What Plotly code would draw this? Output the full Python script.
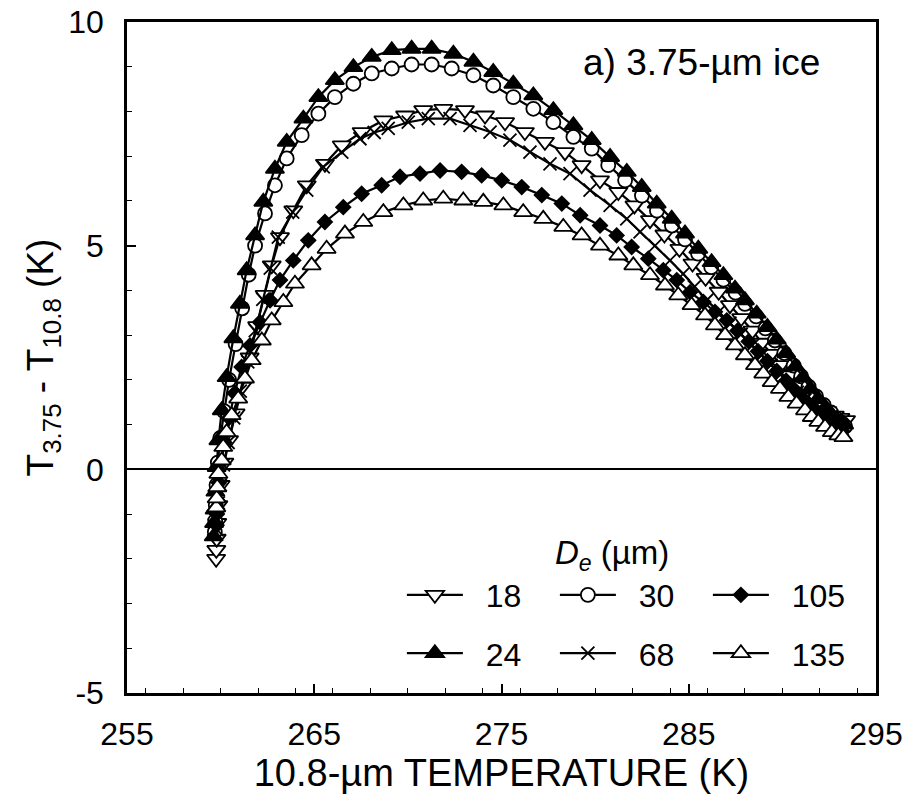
import plotly.graph_objects as go

# ---- data ----
t18 = [259.76, 259.77, 259.79, 259.82, 259.88, 260.0, 260.2, 260.45, 260.8, 261.15, 261.55, 261.95, 262.35, 262.73, 263.17, 263.88, 264.6, 265.57, 266.47, 267.53, 268.69, 269.85, 270.82, 271.89, 273.05, 274.12, 275.19, 276.25, 277.32, 278.39, 279.28, 280.26, 281.24, 282.1, 282.93, 283.7, 284.5, 285.2, 285.9, 286.6, 287.2, 287.8, 288.4, 288.9, 289.4, 289.9, 290.4, 290.8, 291.2, 291.6, 292.0, 292.4, 292.8, 293.1, 293.4]
d18 = [-2.0, -1.8, -1.55, -1.2, -0.8, -0.35, 0.15, 0.65, 1.25, 1.85, 2.5, 3.2, 3.9, 4.56, 5.19, 5.79, 6.35, 6.83, 7.24, 7.54, 7.80, 7.91, 8.03, 8.06, 8.03, 7.91, 7.76, 7.54, 7.32, 7.09, 6.80, 6.46, 6.2, 5.9, 5.57, 5.25, 4.93, 4.6, 4.28, 3.97, 3.67, 3.38, 3.1, 2.83, 2.58, 2.33, 2.1, 1.9, 1.72, 1.55, 1.42, 1.3, 1.2, 1.15, 1.1]

t24 = [259.63, 259.65, 259.68, 259.72, 259.79, 259.88, 260.06, 260.32, 260.68, 261.03, 261.39, 261.84, 262.28, 262.9, 263.53, 264.42, 265.22, 266.1, 267.09, 268.07, 269.14, 270.2, 271.27, 272.43, 273.5, 274.56, 275.63, 276.7, 277.77, 278.84, 279.82, 280.8, 281.69, 282.49, 283.29, 284.09, 284.8, 285.51, 286.22, 286.85, 287.47, 288.0, 288.63, 289.2, 289.7, 290.2, 290.7, 291.1, 291.5, 291.9, 292.3, 292.6, 292.9, 293.1, 293.3]
d24 = [-1.5, -1.2, -0.9, -0.5, 0.05, 0.65, 1.32, 2.06, 2.93, 3.7, 4.45, 5.23, 5.98, 6.72, 7.32, 7.84, 8.32, 8.70, 8.99, 9.22, 9.37, 9.40, 9.40, 9.29, 9.11, 8.88, 8.62, 8.36, 8.03, 7.69, 7.36, 6.98, 6.65, 6.31, 5.94, 5.60, 5.27, 4.93, 4.63, 4.34, 4.04, 3.78, 3.48, 3.18, 2.9, 2.6, 2.3, 2.05, 1.8, 1.57, 1.38, 1.24, 1.12, 1.04, 1.0]

t30 = [259.69, 259.71, 259.74, 259.78, 259.85, 259.98, 260.18, 260.45, 260.8, 261.15, 261.5, 261.84, 262.37, 262.9, 263.53, 264.33, 265.22, 266.1, 267.09, 268.07, 269.14, 270.2, 271.27, 272.34, 273.5, 274.56, 275.63, 276.7, 277.77, 278.84, 279.82, 280.7, 281.6, 282.5, 283.3, 284.1, 284.8, 285.5, 286.2, 286.85, 287.5, 288.0, 288.6, 289.1, 289.6, 290.1, 290.6, 291.0, 291.4, 291.8, 292.2, 292.6, 292.9, 293.2, 293.35]
d30 = [-1.4, -1.15, -0.8, -0.35, 0.15, 0.7, 1.3, 2.0, 2.8, 3.6, 4.35, 5.0, 5.72, 6.35, 6.95, 7.47, 7.95, 8.32, 8.62, 8.85, 8.96, 9.05, 9.05, 8.96, 8.81, 8.58, 8.32, 8.06, 7.76, 7.43, 7.17, 6.80, 6.46, 6.12, 5.78, 5.45, 5.14, 4.82, 4.52, 4.24, 3.95, 3.7, 3.42, 3.15, 2.88, 2.6, 2.32, 2.08, 1.85, 1.63, 1.44, 1.27, 1.13, 1.02, 0.96]

t68 = [259.8, 259.82, 259.88, 259.98, 260.15, 260.4, 260.7, 261.05, 261.45, 261.85, 262.25, 262.65, 263.08, 263.85, 264.6, 265.48, 266.47, 267.44, 268.2, 268.95, 270.02, 271.09, 272.25, 273.32, 274.39, 275.45, 276.52, 277.59, 278.66, 279.73, 280.8, 281.69, 282.4, 283.2, 284.0, 284.7, 285.3, 285.96, 286.6, 287.2, 287.8, 288.4, 288.9, 289.4, 289.9, 290.4, 290.8, 291.2, 291.6, 292.0, 292.4, 292.8, 293.2]
d68 = [-1.35, -1.1, -0.75, -0.35, 0.1, 0.6, 1.15, 1.75, 2.4, 3.1, 3.8, 4.5, 5.19, 5.75, 6.24, 6.76, 7.09, 7.39, 7.53, 7.62, 7.76, 7.84, 7.84, 7.69, 7.54, 7.36, 7.09, 6.83, 6.61, 6.24, 5.9, 5.60, 5.31, 5.0, 4.67, 4.37, 4.08, 3.78, 3.52, 3.27, 3.02, 2.77, 2.55, 2.33, 2.12, 1.9, 1.72, 1.55, 1.4, 1.26, 1.12, 1.0, 0.9]

t105 = [259.78, 259.8, 259.83, 259.9, 260.02, 260.2, 260.45, 260.75, 261.12, 261.57, 262.1, 262.64, 263.17, 263.88, 264.68, 265.57, 266.55, 267.53, 268.6, 269.58, 270.65, 271.72, 272.87, 273.94, 275.01, 276.08, 277.15, 278.22, 279.2, 280.26, 281.15, 281.95, 282.84, 283.64, 284.36, 285.07, 285.78, 286.4, 287.03, 287.6, 288.2, 288.7, 289.2, 289.7, 290.2, 290.6, 291.0, 291.4, 291.8, 292.2, 292.6, 292.95, 293.2]
d105 = [-1.25, -1.0, -0.7, -0.3, 0.15, 0.6, 1.15, 1.7, 2.29, 2.77, 3.29, 3.78, 4.23, 4.67, 5.12, 5.53, 5.86, 6.16, 6.35, 6.54, 6.61, 6.68, 6.65, 6.57, 6.46, 6.31, 6.13, 5.94, 5.68, 5.45, 5.23, 4.97, 4.71, 4.45, 4.23, 3.96, 3.74, 3.52, 3.33, 3.1, 2.86, 2.64, 2.42, 2.2, 1.98, 1.8, 1.63, 1.47, 1.32, 1.18, 1.04, 0.93, 0.85]

t135 = [259.77, 259.79, 259.82, 259.88, 260.06, 260.14, 260.32, 260.59, 260.94, 261.3, 261.66, 262.2, 262.73, 263.35, 263.97, 264.86, 265.66, 266.64, 267.62, 268.69, 269.76, 270.82, 271.89, 272.96, 274.03, 275.1, 276.16, 277.23, 278.3, 279.28, 280.26, 281.24, 282.04, 282.93, 283.73, 284.44, 285.15, 285.87, 286.4, 286.94, 287.47, 288.0, 288.54, 288.98, 289.43, 289.87, 290.32, 290.76, 291.21, 291.57, 291.92, 292.28, 292.64, 292.99, 293.26]
d135 = [-0.85, -0.65, -0.4, -0.1, 0.2, 0.5, 0.83, 1.21, 1.58, 2.03, 2.44, 2.88, 3.33, 3.74, 4.15, 4.56, 4.93, 5.27, 5.53, 5.75, 5.90, 6.01, 6.05, 6.01, 5.98, 5.9, 5.75, 5.6, 5.42, 5.23, 5.0, 4.78, 4.56, 4.34, 4.11, 3.89, 3.67, 3.44, 3.22, 3.0, 2.77, 2.55, 2.33, 2.14, 1.95, 1.80, 1.62, 1.47, 1.32, 1.17, 1.06, 0.95, 0.83, 0.76, 0.72]

x_ticks = [255, 265, 275, 285, 295]
y_ticks = [-5, 0, 5, 10]

FONT = "Liberation Sans, Arial, sans-serif"
NB = "\u00a0\u00a0"

# (label, x, y, symbol, fill, size, legend)
series = [
    ("18", t18, d18, "triangle-down", "white", 16, "legend"),
    ("30", t30, d30, "circle", "white", 14, "legend"),
    ("105", t105, d105, "diamond", "black", 11, "legend"),
    ("24", t24, d24, "triangle-up", "black", 16, "legend2"),
    ("68", t68, d68, "x-thin", "black", 13, "legend2"),
    ("135", t135, d135, "triangle-up", "white", 16, "legend2"),
]

fig = go.Figure()
for name, xs, ys, sym, fill, size, leg in series:
    fig.add_trace(go.Scatter(
        x=xs, y=ys, mode="lines+markers", name=NB + name, legend=leg,
        line=dict(color="black", width=2.2),
        marker=dict(symbol=sym, size=size, color=fill,
                    line=dict(color="black", width=1.8)),
    ))

legend_common = dict(
    orientation="h", xanchor="left", yanchor="middle",
    font=dict(family=FONT, size=32, color="black"),
    bgcolor="rgba(0,0,0,0)", itemwidth=56, entrywidth=82,
    tracegroupgap=0,
)

fig.update_layout(
    width=907, height=797,
    margin=dict(l=127, r=31, t=22, b=104, autoexpand=False),
    paper_bgcolor="white", plot_bgcolor="white",
    font=dict(family=FONT, color="black"),
    showlegend=True,
    legend=dict(x=0.367, y=0.146, **legend_common),
    legend2=dict(x=0.367, y=0.059, **legend_common),
    xaxis=dict(
        range=[255, 295], tickvals=x_ticks, ticktext=[str(v) for v in x_ticks],
        showline=True, mirror=True, linecolor="black", linewidth=2.5,
        ticks="inside", ticklen=9, tickwidth=1.5, tickcolor="black",
        minor=dict(dtick=2, ticks="inside", ticklen=5, tickwidth=1.2, tickcolor="black"),
        showgrid=False, zeroline=False, automargin=False,
        tickfont=dict(family=FONT, size=32, color="black"),
        ticklabelstandoff=11,
        title=dict(text="10.8-µm TEMPERATURE (K)", font=dict(family=FONT, size=38, color="black"), standoff=0),
    ),
    yaxis=dict(
        range=[-5, 10], tickvals=y_ticks, ticktext=[str(v) for v in y_ticks],
        showline=True, mirror=True, linecolor="black", linewidth=2.5,
        ticks="inside", ticklen=9, tickwidth=1.5, tickcolor="black",
        minor=dict(dtick=1, ticks="inside", ticklen=5, tickwidth=1.2, tickcolor="black"),
        showgrid=False, zeroline=True, zerolinecolor="black", zerolinewidth=2,
        automargin=False,
        tickfont=dict(family=FONT, size=32, color="black"),
        ticklabelstandoff=14,
        title=dict(text="T<sub>3.75</sub> - T<sub>10.8</sub> (K)", font=dict(family=FONT, size=37, color="black"), standoff=4),
    ),
    annotations=[
        dict(text="a) 3.75-µm ice", xref="paper", yref="paper", x=0.928, y=0.940,
             xanchor="right", yanchor="middle", showarrow=False,
             font=dict(family=FONT, size=37, color="black")),
        dict(text="<i>D<sub>e</sub></i> (µm)", xref="paper", yref="paper", x=0.648, y=0.205,
             xanchor="center", yanchor="middle", showarrow=False,
             font=dict(family=FONT, size=33, color="black")),
    ],
)

fig.write_html("out.html")
